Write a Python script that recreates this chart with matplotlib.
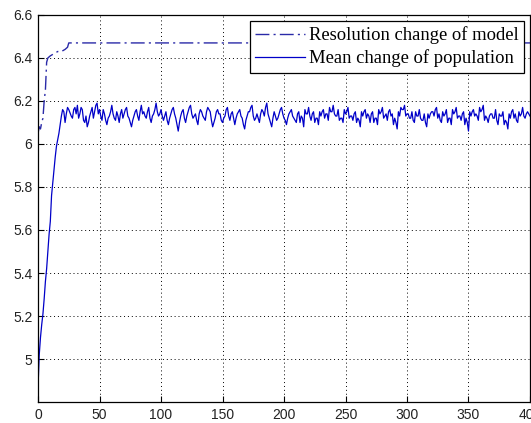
import numpy as np
import matplotlib
matplotlib.use('Agg')
import matplotlib.pyplot as plt

# Resolution change of model (dash-dot)
res_x = [0, 1, 2, 3, 4, 5, 6, 7, 8, 10, 13, 16, 19, 22, 24, 25, 400]
res_y = [6.05, 6.08, 6.07, 6.10, 6.12, 6.20, 6.25, 6.38, 6.40, 6.41, 6.42,
         6.43, 6.43, 6.44, 6.45, 6.47, 6.47]

# Mean change of population: initial rise (every iteration)
rise_x = list(range(0, 26))
rise_y = [4.87, 5.02, 5.10, 5.16, 5.21, 5.28, 5.36, 5.42, 5.50, 5.58, 5.64,
          5.76, 5.82, 5.88, 5.94, 5.99, 6.02, 6.05, 6.09, 6.13, 6.16, 6.15,
          6.10, 6.14, 6.17, 6.16]

# steady part, even iterations 28..400
even_y = [
    6.12, 6.17, 6.18, 6.14, 6.16, 6.10, 6.08, 6.13, 6.17, 6.15, 6.19,
    6.16, 6.11, 6.14, 6.09, 6.13, 6.18, 6.12, 6.15, 6.10, 6.16, 6.14, 6.17,
    6.12, 6.08, 6.13, 6.16, 6.11, 6.18, 6.15, 6.12, 6.17, 6.10, 6.14, 6.19,
    6.13, 6.16,
    6.11, 6.15, 6.09, 6.14, 6.17, 6.12, 6.06, 6.13, 6.16, 6.10, 6.15, 6.18,
    6.12, 6.14, 6.09, 6.16, 6.13, 6.11, 6.17, 6.15, 6.08, 6.12, 6.16, 6.14,
    6.10, 6.13, 6.17, 6.11, 6.15, 6.09, 6.14, 6.16, 6.12, 6.07, 6.13, 6.15,
    6.18, 6.11, 6.14, 6.10, 6.16, 6.13, 6.19, 6.12, 6.08, 6.15, 6.11, 6.14,
    6.17, 6.12,
    6.09, 6.14, 6.16, 6.12, 6.10, 6.15, 6.13, 6.08, 6.14, 6.17, 6.11, 6.15,
    6.12, 6.09, 6.13, 6.16, 6.14, 6.11, 6.15, 6.18, 6.13, 6.16, 6.12, 6.10,
    6.14, 6.17, 6.13, 6.11, 6.15, 6.12, 6.08, 6.13, 6.16, 6.14, 6.10, 6.15,
    6.12, 6.09, 6.14, 6.17, 6.13, 6.11, 6.16, 6.14, 6.12, 6.07, 6.13, 6.16,
    6.18, 6.14,
    6.12, 6.15, 6.10, 6.13, 6.16, 6.11, 6.14, 6.08, 6.12, 6.15, 6.13, 6.17,
    6.14, 6.10, 6.13, 6.16, 6.12, 6.09, 6.14, 6.17, 6.13, 6.11, 6.15, 6.12,
    6.06, 6.13, 6.16, 6.14, 6.11, 6.15, 6.18, 6.13, 6.10, 6.14, 6.12, 6.16,
    6.09, 6.13, 6.15, 6.11, 6.07, 6.12, 6.16, 6.14, 6.10, 6.13, 6.17, 6.12,
    6.15, 6.13,
]
# steady part, odd iterations 27..397
odd_y = [
    6.13, 6.16, 6.14, 6.12, 6.17, 6.11, 6.13, 6.10, 6.15, 6.12, 6.18, 6.14,
    6.13, 6.16, 6.11, 6.12, 6.15, 6.14, 6.11, 6.13, 6.14, 6.12, 6.16, 6.13,
    6.10, 6.11, 6.15, 6.13, 6.15, 6.14, 6.13, 6.15, 6.12, 6.13, 6.16, 6.15,
    6.14, 6.13,
    6.13, 6.11, 6.12, 6.16, 6.14, 6.09, 6.10, 6.15, 6.12, 6.13, 6.17, 6.14,
    6.13, 6.11, 6.14, 6.15, 6.12, 6.15, 6.16, 6.11, 6.10, 6.15, 6.14, 6.11,
    6.12, 6.16, 6.13, 6.14, 6.12, 6.12, 6.15, 6.13, 6.09, 6.11, 6.15, 6.17,
    6.13, 6.12, 6.12, 6.14, 6.15, 6.17, 6.14, 6.10, 6.12, 6.13, 6.12, 6.16,
    6.14,
    6.11, 6.12, 6.15, 6.13, 6.11, 6.14, 6.10, 6.12, 6.16, 6.14, 6.13, 6.14,
    6.10, 6.12, 6.15, 6.15, 6.12, 6.14, 6.17, 6.15, 6.14, 6.13, 6.11, 6.12,
    6.16, 6.15, 6.12, 6.13, 6.14, 6.10, 6.11, 6.15, 6.15, 6.12, 6.13, 6.14,
    6.10, 6.12, 6.16, 6.15, 6.12, 6.14, 6.15, 6.13, 6.09, 6.10, 6.15, 6.17,
    6.16, 6.13,
    6.14, 6.12, 6.11, 6.15, 6.13, 6.12, 6.11, 6.10, 6.14, 6.14, 6.15, 6.16,
    6.12, 6.11, 6.15, 6.14, 6.10, 6.12, 6.16, 6.15, 6.12, 6.13, 6.14, 6.09,
    6.10, 6.15, 6.15, 6.13, 6.13, 6.17, 6.16, 6.11, 6.12, 6.13, 6.14, 6.12,
    6.11, 6.14, 6.13, 6.09, 6.10, 6.14, 6.15, 6.12, 6.11, 6.15, 6.14, 6.13,
    6.14,
]
even_x = list(range(28, 28 + 2 * len(even_y), 2))
odd_x = list(range(27, 27 + 2 * len(odd_y), 2))

steady = sorted(zip(even_x + odd_x, even_y + odd_y))
mean_x = rise_x + [p[0] for p in steady]
mean_y = rise_y + [p[1] for p in steady]

xticks = [0, 50, 100, 150, 200, 250, 300, 350, 400]
yticks = [5, 5.2, 5.4, 5.6, 5.8, 6, 6.2, 6.4, 6.6]
ytick_labels = ['5', '5.2', '5.4', '5.6', '5.8', '6', '6.2', '6.4', '6.6']

fig = plt.figure(figsize=(5.31, 4.23), dpi=100)
ax = fig.add_axes([0.0716, 0.0496, 0.9265, 0.915])

ax.plot(res_x, res_y, color='#2a2aa8', lw=1.0, dashes=(10, 3, 1.5, 3),
        label='Resolution change of model')
ax.plot(mean_x, mean_y, color='#0000c8', lw=0.9, label='Mean change of population')

ax.set_xlim(0, 400)
ax.set_ylim(4.8, 6.6)
ax.set_xticks(xticks)
ax.set_yticks(yticks)
ax.set_yticklabels(ytick_labels)
ax.tick_params(direction='in', length=4, labelsize=10, colors='black', pad=4)
for lab in ax.get_xticklabels() + ax.get_yticklabels():
    lab.set_family('Liberation Sans')
    lab.set_color('#222222')

ax.grid(True, color='black', linestyle=(0, (1, 3)), linewidth=0.7)
for s in ax.spines.values():
    s.set_linewidth(0.9)

leg = ax.legend(loc='upper right', prop={'family': 'Liberation Serif', 'size': 13.4},
                fancybox=False, framealpha=1, edgecolor='black',
                borderpad=0.3, labelspacing=0.3, handlelength=2.7,
                handletextpad=0.2, borderaxespad=0.3)
leg.get_frame().set_linewidth(0.9)

fig.savefig('out.png', dpi=100)
